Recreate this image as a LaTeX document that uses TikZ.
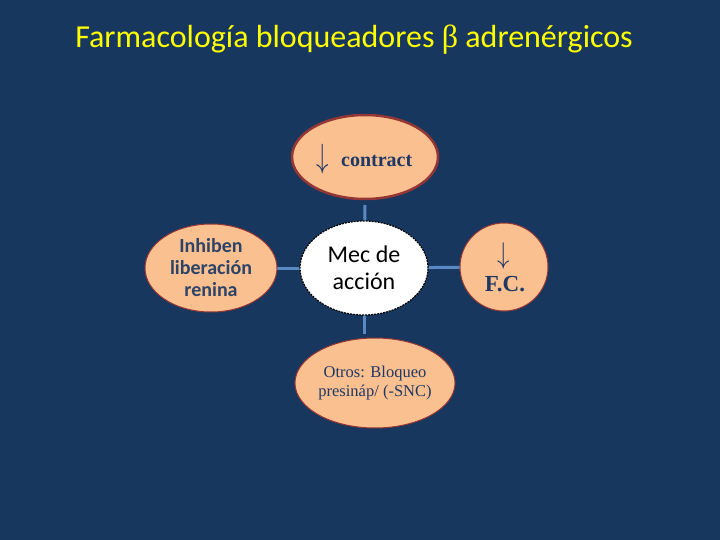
\documentclass[tikz,border=0pt]{standalone}
\usepackage{fontspec}
\setmainfont{Liberation Serif}
\newfontfamily\calib{Carlito}
\usetikzlibrary{shapes.geometric}
\definecolor{bgnavy}{HTML}{17375E}
\definecolor{peach}{HTML}{FAC090}
\definecolor{rimred}{HTML}{943634}
\definecolor{spoke}{HTML}{5A88C2}
\definecolor{txtnavy}{HTML}{1F3864}
\definecolor{titley}{HTML}{FFFF00}
\tikzset{
  petal/.style={ellipse, fill=peach, draw=rimred, line width=1pt, inner sep=0pt, align=center, text=txtnavy},
  spokeline/.style={draw=spoke, line width=3pt},
  plaintext/.style={inner sep=0pt, text=txtnavy},
}
\begin{document}
\begin{tikzpicture}[x=1pt,y=-1pt]
\fill[bgnavy] (0,0) rectangle (720,540);
\useasboundingbox (0,0) rectangle (720,540);
\node[anchor=base, text=titley, font=\calib\fontsize{32}{36}\selectfont] (title) at (354,48)
  {Farmacología bloqueadores {\fontspec{Liberation Serif}β} adrenérgicos};
\coordinate (botend) at (364,334);
\coordinate (topend) at (365,205);
\coordinate (mecc) at (364,268);
% spokes (behind nodes)
\path[spokeline] (topend) -- (mecc);
\path[spokeline] (mecc) -- (botend);
\path[spokeline] (211,268) -- (mecc);
\path[spokeline] (mecc) -- (504,267);
% nodes
\node[petal, line width=2.5pt, minimum width=146pt, minimum height=84pt] (top) at (365,157) {};
\node[plaintext, anchor=south] (toparrow) at (323,174) {\scalebox{1}[1.35]{\fontsize{34}{34}\selectfont$\downarrow$}};
\node[plaintext, anchor=base west, font=\bfseries\fontsize{20}{22}\selectfont] (toptext) at (341,167) {contract};
\node[ellipse, fill=white, draw=black, line width=1.2pt, dash pattern=on 2pt off 1pt,
  minimum width=128pt, minimum height=94pt, inner sep=0pt, align=center,
  font=\calib\fontsize{24}{27}\selectfont] (mec) at (mecc) {Mec de\\acción};
\node[petal, minimum width=132pt, minimum height=88pt,
  font=\calib\bfseries\fontsize{20}{22}\selectfont, text=txtnavy!85!gray] (left) at (211,268)
  {Inhiben\\liberación\\renina};
\node[petal, circle, minimum size=88pt] (right) at (504,267) {};
\node[plaintext, anchor=south] (rightarrow) at (504,270) {\scalebox{1}[1.2]{\fontsize{30}{30}\selectfont$\downarrow$}};
\node[plaintext, anchor=base, font=\bfseries\fontsize{23}{26}\selectfont] (righttext) at (505,291) {F.C.};
\node[petal, minimum width=144pt, minimum height=90pt,
  font=\fontsize{16.5}{18.5}\selectfont] (bottom) at (375,383)
  {Otros: Bloqueo\\presináp/ (-SNC)};
\end{tikzpicture}
\end{document}
